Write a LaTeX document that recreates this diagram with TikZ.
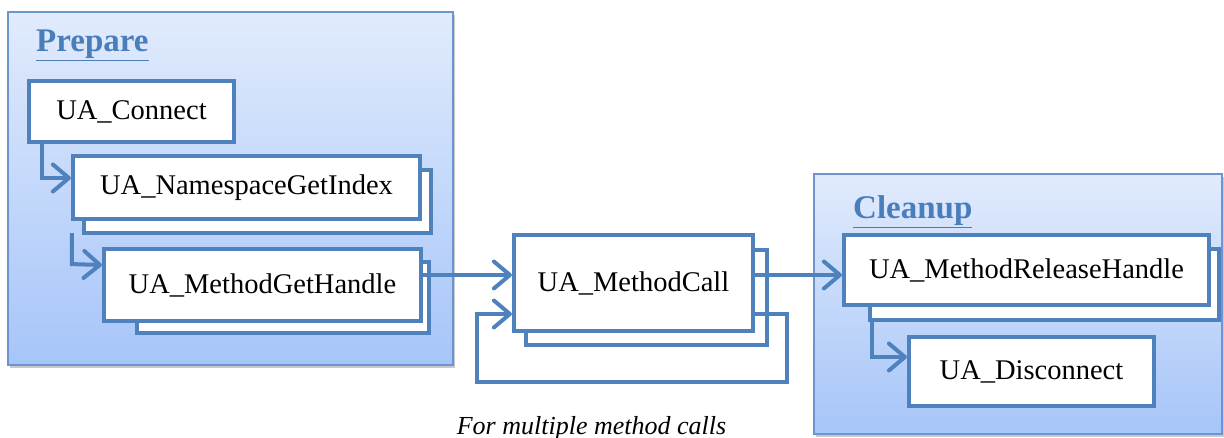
\documentclass[tikz,border=0pt]{standalone}
\usepackage{fontspec}
\setmainfont{Liberation Serif}
\usetikzlibrary{arrows.meta,shadows,calc}
\definecolor{bord}{HTML}{4F81BD}
\definecolor{panelline}{HTML}{6A95D1}
\definecolor{paneltop}{HTML}{E1EBFC}
\definecolor{panelbot}{HTML}{A6C5F9}
\definecolor{headblue}{HTML}{4A7EBB}
\tikzset{
  panel/.style={draw=panelline, line width=1.5pt, top color=paneltop, bottom color=panelbot,
    drop shadow={shadow xshift=2pt, shadow yshift=-3pt, opacity=0.35, fill=black!60}},
  header/.style={anchor=base west, inner sep=0pt, text=headblue,
    font=\fontsize{33}{36}\selectfont\bfseries},
  callbox/.style={draw=bord, line width=4.2pt, fill=white, inner sep=0pt,
    font=\fontsize{28.5}{30}\selectfont},
  conn/.style={draw=bord, line width=4pt,
    -{Straight Barb[length=16pt, width=27pt, line width=4pt, round]}},
  plain/.style={draw=bord, line width=4pt}
}
\begin{document}
\begin{tikzpicture}[x=1pt, y=-1pt]
\useasboundingbox (0,0) rectangle (1224,438);

% phase panels
\path[panel] (8,12) rectangle (453,365);
\path[panel] (814,174) rectangle (1222,434);
\node[header] (prep) at (36,52) {\underline{Prepare}};
\node[header] (clean) at (853,219) {\underline{Cleanup}};

% Prepare calls
\node[callbox, minimum width=205pt, minimum height=61pt] (conn) at (131.5,111.5) {UA\_Connect};
\node[callbox, minimum width=347pt, minimum height=63pt] (nsB) at (257.5,201.5) {};
\node[callbox, minimum width=347pt, minimum height=63pt] (ns) at (246.5,187.5) {UA\_NamespaceGetIndex};
\node[callbox, minimum width=292pt, minimum height=71pt] (mghB) at (283,297.5) {};
\node[callbox, minimum width=317pt, minimum height=72pt] (mgh) at (262.5,285) {UA\_MethodGetHandle};

% method call
\node[callbox, minimum width=241pt, minimum height=95pt] (mcB) at (646.5,297.5) {};
\node[callbox, minimum width=239pt, minimum height=96pt] (mc) at (633.5,283) {UA\_MethodCall};

% Cleanup calls
\node[callbox, minimum width=349pt, minimum height=71pt] (relB) at (1044.5,284.5) {};
\node[callbox, minimum width=365pt, minimum height=70pt] (rel) at (1026.5,270) {UA\_MethodReleaseHandle};
\node[callbox, minimum width=245pt, minimum height=69pt] (disc) at (1031.5,371.5) {UA\_Disconnect};

% connectors
\coordinate (row) at (0,275);
\coordinate (lp) at (0,314);
\coordinate (loopR) at (787,382);
\coordinate (loopL) at (477,382);

\draw[conn] ($(conn.south west)+(15,0)$) |- ($(ns.west)+(0,-9.5)$);
\draw[conn] ($(ns.south west)+(1,12)$) -- ($(ns.south west)+(1,43)$) -- ($(mgh.west)+(0,-20)$);
\draw[conn] (mgh.east |- row) -- (mc.west |- row);
\draw[conn] (mc.east |- row) -- (rel.west |- row);
\draw[conn] (mc.east |- lp) -| (loopR) -- (loopL) |- (mc.west |- lp);
\draw[conn] ($(relB.south west)+(4,0)$) |- ($(disc.west)+(0,-14.5)$);

\node[anchor=base, inner sep=0pt, font=\fontsize{26}{28}\selectfont\itshape] (note) at (591.5,434) {For multiple method calls};
\end{tikzpicture}
\end{document}
